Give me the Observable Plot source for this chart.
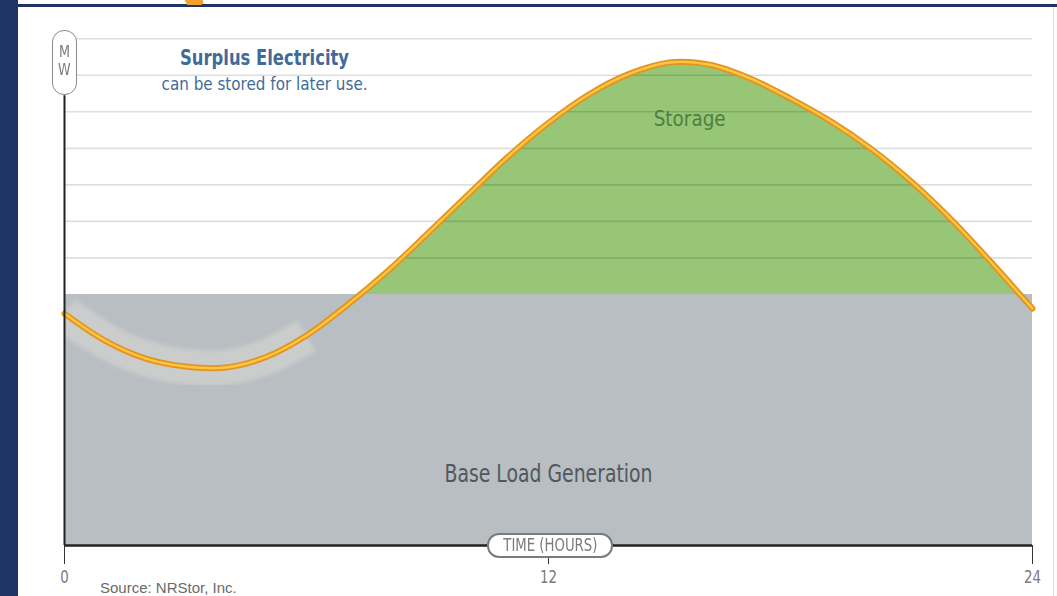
<!DOCTYPE html>
<html>
<head>
<meta charset="utf-8">
<script src="https://cdn.jsdelivr.net/npm/d3@7"></script>
<script src="https://cdn.jsdelivr.net/npm/@observablehq/plot@0.6"></script>
<style>
  html, body { margin: 0; padding: 0; background: #fff; }
  #wrap { position: relative; width: 1057px; height: 596px; overflow: hidden; }
  #wrap svg { position: absolute; left: 0; top: 0; }
  .deco { position: absolute; }
  .pill { position: absolute; background: #fff; box-sizing: border-box; color: #7c7c7c;
          font-family: "DejaVu Sans", sans-serif; text-align: center; }
  .sq { display: inline-block; transform: scaleX(0.78); transform-origin: center; white-space: nowrap; }
  .sq2 { display: inline-block; transform: scaleX(0.85); transform-origin: center; white-space: nowrap; }
</style>
</head>
<body>
<div id="wrap"></div>
<script>
// ---- data ----
const hours = [0,1,2,3,4,5,6,7,8,9,10,11,12,13,14,15,16,17,18,19,20,21,22,23,24];
const demandMW = [50.8,44.9,41.0,39.2,39.0,41.3,46.0,52.6,60.0,68.3,76.8,85.2,92.6,98.8,103.3,105.8,105.3,102.3,97.9,92.9,86.9,79.7,71.3,61.8,51.9];
const baseLoadMW = 55;
const gridLinesMW = [63,71,79,87,95,103,111];
const xTicks = [0,12,24];
const labels = {
  title: "Surplus Electricity",
  subtitle: "can be stored for later use.",
  storage: "Storage",
  base: "Base Load Generation",
  xAxis: "TIME (HOURS)",
  yAxis: ["M","W"],
  source: "Source: NRStor, Inc."
};

const data = hours.map((t, i) => ({t, mw: demandMW[i]}));
const baseRows = hours.map(t => ({t, mw: baseLoadMW}));
const leftPart = data.filter(d => d.t <= 6);
const font = '"DejaVu Sans", sans-serif';

const chart = Plot.plot({
  width: 1057,
  height: 596,
  marginLeft: 64,
  marginRight: 25,
  marginTop: 20,
  marginBottom: 51,
  x: {domain: [0, 24], axis: null},
  y: {domain: [0, 115], axis: null},
  style: {fontFamily: font, background: "transparent"},
  marks: [
    // storage (surplus) area: between base load and demand
    Plot.areaY(data, {x: "t", y1: baseLoadMW, y2: "mw", curve: "catmull-rom", fill: "#97c677"}),
    // base load generation block
    Plot.areaY(baseRows, {x: "t", y1: 0, y2: "mw", fill: "#b8bec1"}),
    // grid lines
    Plot.ruleY(gridLinesMW, {x1: 0, x2: 24, stroke: "#000", strokeOpacity: 0.13, strokeWidth: 1.6}),
    // light smudge under the curve on the left
    Plot.line(leftPart, {x: "t", y: "mw", curve: "catmull-rom", stroke: "#cdcdcd", strokeWidth: 36, strokeOpacity: 0.9, strokeLinecap: "butt"}),
    // demand curve
    Plot.line(data, {x: "t", y: "mw", curve: "catmull-rom", stroke: "#e29320", strokeWidth: 6}),
    Plot.line(data, {x: "t", y: "mw", curve: "catmull-rom", stroke: "#fcc640", strokeWidth: 2.4}),
    // axes lines
    Plot.ruleX([0], {y1: 0, y2: 98.5, stroke: "#222", strokeWidth: 2}),
    Plot.ruleY([0], {x1: 0, x2: 24, stroke: "#222", strokeWidth: 2.5}),
    Plot.axisX({ticks: xTicks, tickSize: 19, tickPadding: 6, fontSize: 17, stroke: "#333", fill: "#7a7a7a", label: null, tickFormat: d => String(d)}),
    // annotations
    Plot.text([labels.title], {x: 4.96, y: 106.8, text: d => d, fill: "#3f6b9a", fontSize: 21.5, fontWeight: "bold"}),
    Plot.text([labels.subtitle], {x: 4.96, y: 101.0, text: d => d, fill: "#3f6b9a", fontSize: 18.5}),
    Plot.text([labels.storage], {x: 15.5, y: 93.5, text: d => d, fill: "#4f7f3e", fontSize: 22}),
    Plot.text([labels.base], {x: 12, y: 15.5, text: d => d, fill: "#50585e", fontSize: 24})
  ]
});
const wrap = document.getElementById("wrap");
wrap.appendChild(chart);

// condense texts horizontally to mimic the condensed typeface of the original
const fitWidth = {[labels.title]: 169, [labels.subtitle]: 206, [labels.storage]: 72, [labels.base]: 208};
d3.select(chart).selectAll("text").each(function() {
  const s = this.textContent;
  let w = fitWidth[s];
  if (!w && /^\d+$/.test(s)) w = s.length * 8.5;
  if (w) { this.setAttribute("textLength", w); this.setAttribute("lengthAdjust", "spacingAndGlyphs"); }
});

// clip + soften the smudge so it stays inside the base-load block
const sx = chart.scale("x"), sy = chart.scale("y");
const svg = d3.select(chart);
const defs = svg.insert("defs", ":first-child");
defs.append("clipPath").attr("id", "baseClip").append("rect")
  .attr("x", sx.apply(0)).attr("y", sy.apply(baseLoadMW))
  .attr("width", sx.apply(24) - sx.apply(0)).attr("height", sy.apply(0) - sy.apply(baseLoadMW));
defs.append("filter").attr("id", "soft").attr("x", "-10%").attr("y", "-30%").attr("width", "120%").attr("height", "160%")
  .append("feGaussianBlur").attr("stdDeviation", 2.2);
const smudge = svg.selectAll('g[aria-label="line"]').nodes()[0];
if (smudge) {
  const holder = svg.insert("g", () => smudge).attr("clip-path", "url(#baseClip)");
  holder.node().appendChild(smudge);
  d3.select(smudge).attr("filter", "url(#soft)");
}

function add(html) { wrap.insertAdjacentHTML("beforeend", html); }
// frame decorations
add('<div class="deco" style="left:0;top:0;width:18px;height:596px;background:#1e3564"></div>');
add('<div class="deco" style="left:0;top:4px;width:1057px;height:3px;background:#1e3564"></div>');
add('<div class="deco" style="left:186px;top:0;width:18px;height:5px;background:#f1a02a;border-radius:0 0 8px 0;transform:skewX(30deg)"></div>');
add('<div class="deco" style="left:1053px;top:7px;width:1px;height:589px;background:#d6deea"></div>');
// axis pills
add('<div class="pill" style="left:52px;top:30px;width:25px;height:65px;border:1.6px solid #8a8a8a;border-radius:12px;font-size:15px;line-height:18px;padding-top:12px"><span class="sq2">' + labels.yAxis.join("<br>") + '</span></div>');
add('<div class="pill" style="left:487px;top:533px;width:126px;height:25px;border:2px solid #7a7a7a;border-radius:12px;font-size:17px;line-height:21px"><span class="sq">' + labels.xAxis + '</span></div>');
// source
add('<div class="deco" style="left:100px;top:580px;font-family:\'Liberation Sans\',Arial,sans-serif;font-size:15px;line-height:15px;color:#6a6a6a">' + labels.source + '</div>');
</script>
</body>
</html>
